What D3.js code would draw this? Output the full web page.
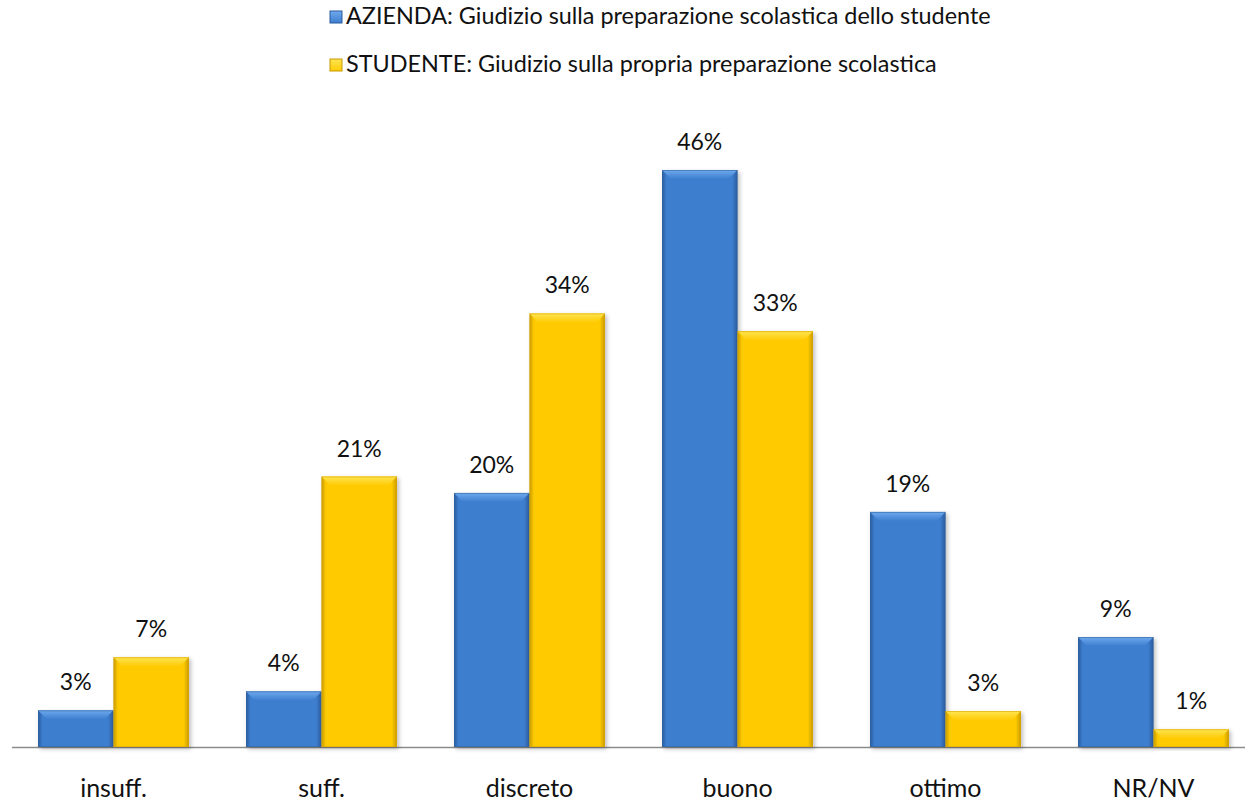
<!DOCTYPE html>
<html><head><meta charset="utf-8">
<script src="https://cdn.jsdelivr.net/npm/d3@7"></script>
<style>body{margin:0;background:#fff}svg{display:block;font-family:Lato,"Open Sans",sans-serif}</style>
</head><body><svg id="c" width="1253" height="802"></svg>
<script>
const categories = ["insuff.", "suff.", "discreto", "buono", "ottimo", "NR/NV"];
const seriesNames = ["AZIENDA: Giudizio sulla preparazione scolastica dello studente", "STUDENTE: Giudizio sulla propria preparazione scolastica"];
const azienda = [2.9, 4.4, 20.1, 45.65, 18.6, 8.7];
const studente = [7.1, 21.4, 34.3, 32.9, 2.85, 1.4];

const svg = d3.select("#c");
const series = [azienda, studente];
const palette = [
  {base:"#3d7ecf", light:"#6faaee", dark:"#2a5a9c", edge:"#33669f"},
  {base:"#ffcb05", light:"#ffe552", dark:"#c79a00", edge:"#d9a800"}
];

const x0 = d3.scaleBand().domain(categories).range([9.5, 1257.5]).paddingInner(0.274).paddingOuter(0.137);
const x1 = d3.scaleBand().domain([0,1]).range([0, x0.bandwidth()]);
const y = d3.scaleLinear().domain([0, 50]).range([747, 115]);
const fmt = v => Math.round(v) + "%";

const defs = svg.append("defs");
palette.forEach((p,i)=>{
  const g = defs.append("linearGradient").attr("id","hg"+i).attr("x1","0").attr("x2","1").attr("y1","0").attr("y2","0");
  g.append("stop").attr("offset","0").attr("stop-color",p.dark);
  g.append("stop").attr("offset","0.06").attr("stop-color",p.base);
  g.append("stop").attr("offset","0.93").attr("stop-color",p.base);
  g.append("stop").attr("offset","1").attr("stop-color",p.dark);
  const t = defs.append("linearGradient").attr("id","tg"+i).attr("x1","0").attr("x2","0").attr("y1","0").attr("y2","1");
  t.append("stop").attr("offset","0").attr("stop-color",p.light);
  t.append("stop").attr("offset","1").attr("stop-color",p.base);
});
const f = defs.append("filter").attr("id","sh").attr("x","-20%").attr("y","-20%").attr("width","140%").attr("height","140%");
f.append("feDropShadow").attr("dx",2).attr("dy",2).attr("stdDeviation",2).attr("flood-color","#000").attr("flood-opacity",0.25);

// axis line
svg.append("line").attr("x1",12).attr("x2",1245).attr("y1",y(0)+0.5).attr("y2",y(0)+0.5)
  .attr("stroke","#8c8c8c").attr("stroke-width",1.5);

series.forEach((vals,si)=>{
  const g = svg.append("g");
  vals.forEach((v,ci)=>{
    const bx = x0(categories[ci]) + x1(si), bw = x1.bandwidth();
    const by = y(v), bh = y(0) - y(v);
    const p = palette[si];
    const bar = g.append("g").attr("filter","url(#sh)");
    bar.append("rect").attr("x",bx).attr("y",by).attr("width",bw).attr("height",bh).attr("fill","url(#hg"+si+")");
    const bev = Math.min(9, bh/2);
    bar.append("path").attr("d",`M${bx},${by}L${bx+bw},${by}L${bx+bw-bev},${by+bev}L${bx+bev},${by+bev}Z`).attr("fill","url(#tg"+si+")");
    bar.append("rect").attr("x",bx+0.5).attr("y",by+0.5).attr("width",bw-1).attr("height",bh-1).attr("fill","none").attr("stroke",p.edge).attr("stroke-width",1).attr("stroke-opacity",0.6);
    svg.append("text").attr("x",bx+bw/2).attr("y",by-20).attr("text-anchor","middle")
      .attr("font-size",23).attr("fill","#111").text(fmt(v));
  });
});

// category labels
svg.append("g").selectAll("text").data(categories).join("text")
  .attr("x",d=>x0(d)+x0.bandwidth()/2).attr("y",797).attr("text-anchor","middle")
  .attr("font-size",25).attr("fill","#111").text(d=>d);

// legend
const lg = svg.append("g");
seriesNames.forEach((n,i)=>{
  const ly = 24 + i*48;
  const p = palette[i];
  lg.append("rect").attr("x",330).attr("y",ly-13).attr("width",12).attr("height",12).attr("fill","url(#tg"+i+")").attr("stroke",p.dark).attr("stroke-width",1);
  lg.append("text").attr("x",346).attr("y",ly).attr("font-size",23.4).attr("fill","#111").text(n);
});
</script></body></html>
